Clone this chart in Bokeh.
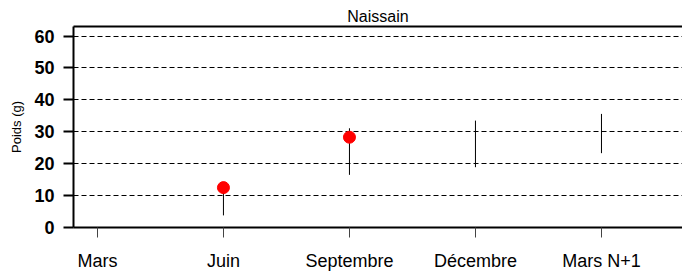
from bokeh.plotting import figure
from bokeh.models import FixedTicker, LinearAxis, Range1d, ColumnDataSource
from bokeh.embed import file_html
from bokeh.resources import INLINE

# Data
categories = ["Mars", "Juin", "Septembre", "Décembre", "Mars N+1"]
y_ticks = [0, 10, 20, 30, 40, 50, 60]
bar_cats = ["Juin", "Septembre", "Décembre", "Mars N+1"]
bar_low = [3.8, 16.5, 18.9, 23.3]
bar_high = [13.0, 31.1, 33.5, 35.6]
point_cats = ["Juin", "Septembre"]
point_vals = [12.5, 28.3]

FONT = "Liberation Sans"

pos = {c: i for i, c in enumerate(categories)}

p = figure(width=682, height=273, output_backend="svg", toolbar_location=None,
           x_range=Range1d(-0.19, 4.643), y_range=Range1d(0, 63),
           min_border_left=73, min_border_right=0, min_border_top=26,
           min_border_bottom=45, x_axis_location=None, y_axis_location=None)
p.outline_line_color = None
p.background_fill_color = "white"
p.border_fill_color = "white"

# Bottom axis
xa = LinearAxis(ticker=FixedTicker(ticks=list(range(len(categories)))),
                major_label_overrides={i: c for i, c in enumerate(categories)})
xa.axis_line_width = 2
xa.axis_line_color = "black"
xa.major_tick_in = 0
xa.major_tick_out = 10
xa.major_tick_line_color = "#444444"
xa.minor_tick_line_color = None
xa.major_label_standoff = 13
xa.major_label_text_font = FONT
xa.major_label_text_font_size = "18px"
xa.major_label_text_color = "black"
p.add_layout(xa, "below")

# Left axis
ya = LinearAxis(ticker=FixedTicker(ticks=y_ticks), axis_label="Poids (g)")
ya.axis_line_width = 2
ya.axis_line_color = "black"
ya.major_tick_in = 0
ya.major_tick_out = 10
ya.major_tick_line_width = 2
ya.minor_tick_line_color = None
ya.major_label_standoff = 9
ya.major_label_text_font = FONT
ya.major_label_text_font_size = "18px"
ya.major_label_text_font_style = "bold"
ya.major_label_text_color = "black"
ya.axis_label_text_font = FONT
ya.axis_label_text_font_size = "13px"
ya.axis_label_text_font_style = "normal"
ya.axis_label_text_color = "black"
ya.axis_label_standoff = 7
p.add_layout(ya, "left")

# Top axis as frame line + title
ta = LinearAxis(ticker=FixedTicker(ticks=[]), axis_label="Naissain")
ta.axis_line_width = 2
ta.axis_line_color = "black"
ta.major_tick_line_color = None
ta.minor_tick_line_color = None
ta.major_label_text_font_size = "0px"
ta.major_label_standoff = 0
ta.axis_label_text_font = FONT
ta.axis_label_text_font_size = "16px"
ta.axis_label_text_font_style = "normal"
ta.axis_label_text_color = "black"
ta.axis_label_standoff = 2
p.add_layout(ta, "above")

p.xgrid.visible = False
p.ygrid.ticker = FixedTicker(ticks=y_ticks[1:])
p.ygrid.grid_line_color = "black"
p.ygrid.grid_line_dash = "5 3"
p.ygrid.grid_line_width = 1

bsrc = ColumnDataSource(dict(x=[pos[c] for c in bar_cats], lo=bar_low, hi=bar_high))
p.segment(x0="x", y0="lo", x1="x", y1="hi", source=bsrc, line_color="black", line_width=1)

psrc = ColumnDataSource(dict(x=[pos[c] for c in point_cats], y=point_vals))
p.scatter(x="x", y="y", source=psrc, size=12, fill_color="red", line_color="red")

open("out.html", "w").write(file_html(p, INLINE))
